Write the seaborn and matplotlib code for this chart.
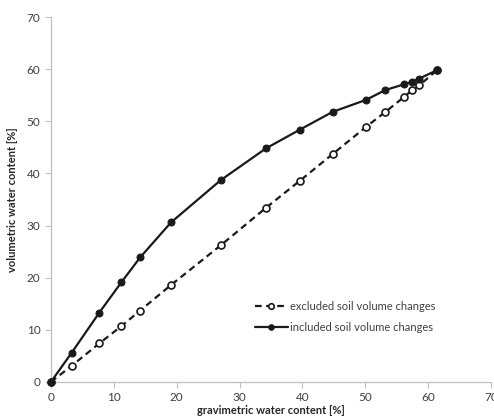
import matplotlib
matplotlib.use("Agg")
import matplotlib.pyplot as plt
import pandas as pd
import seaborn as sns

GRAV = [0, 3.3, 7.7, 11.2, 14.2, 19.1, 27.0, 34.2, 39.6, 44.8, 50.1, 53.2, 56.2, 57.5, 58.6, 61.4]
VOL_EXCLUDED = [0, 3.1, 7.4, 10.7, 13.7, 18.6, 26.2, 33.4, 38.6, 43.7, 48.9, 51.8, 54.7, 56.0, 56.9, 59.8]
VOL_INCLUDED = [0, 5.6, 13.3, 19.1, 23.9, 30.6, 38.7, 44.8, 48.4, 51.8, 54.1, 56.0, 57.1, 57.6, 58.2, 59.8]
LABELS = ["excluded soil volume changes", "included soil volume changes"]
TICKS = list(range(0, 71, 10))

sns.set_style("ticks")
plt.rcParams["font.family"] = ["Lato", "DejaVu Sans"]

df_ex = pd.DataFrame({"grav": GRAV, "vol": VOL_EXCLUDED})
df_in = pd.DataFrame({"grav": GRAV, "vol": VOL_INCLUDED})

fig = plt.figure(figsize=(4.94, 4.2), dpi=100)
ax = fig.add_axes([0.103, 0.0905, 0.891, 0.869])

sns.lineplot(data=df_ex, x="grav", y="vol", ax=ax, color="#1a1a1a", lw=1.6,
             linestyle=(0, (3, 2)), marker="o", markersize=5,
             markerfacecolor="white", markeredgecolor="#1a1a1a", markeredgewidth=1.2,
             label=LABELS[0], clip_on=False, zorder=3)
sns.lineplot(data=df_in, x="grav", y="vol", ax=ax, color="#1a1a1a", lw=1.6,
             marker="o", markersize=5, markerfacecolor="#1a1a1a",
             markeredgecolor="#1a1a1a", label=LABELS[1], clip_on=False, zorder=4)

ax.set_xlim(0, 70)
ax.set_ylim(0, 70)
ax.set_xticks(TICKS)
ax.set_yticks(TICKS)
ax.tick_params(labelsize=8.5, colors="#bfbfbf", labelcolor="#404040", length=4, width=0.8)
for side in ["left", "bottom"]:
    ax.spines[side].set_color("#bfbfbf")
    ax.spines[side].set_linewidth(0.9)
sns.despine(ax=ax)

ax.set_xlabel("gravimetric water content [%]", fontsize=8, fontweight="bold", labelpad=1)
ax.set_ylabel("volumetric water content [%]", fontsize=8, fontweight="bold", labelpad=6)

leg = ax.legend(loc="upper left", bbox_to_anchor=(0.44, 0.25), frameon=False, fontsize=8,
                handlelength=3.0, handletextpad=0.2, labelspacing=0.9, labelcolor="#404040")
for line in leg.get_lines():
    line.set_markersize(4)

fig.savefig("out.png", dpi=100)
